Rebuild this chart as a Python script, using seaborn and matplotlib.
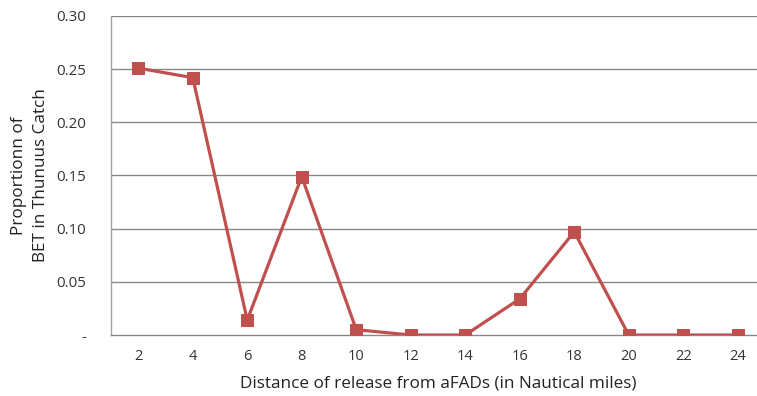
import matplotlib
matplotlib.use("Agg")
import matplotlib.pyplot as plt
import seaborn as sns
import pandas as pd
import numpy as np
from matplotlib.ticker import FixedLocator

distance = ["2", "4", "6", "8", "10", "12", "14", "16", "18", "20", "22", "24"]
proportion = [0.251, 0.242, 0.014, 0.149, 0.005, 0.0, 0.0, 0.034, 0.097, 0.0, 0.0, 0.0]
y_ticks = [0.0, 0.05, 0.10, 0.15, 0.20, 0.25, 0.30]
y_labels = ["-", "0.05", "0.10", "0.15", "0.20", "0.25", "0.30"]

sns.set_style("white")
plt.rcParams["font.family"] = ["Open Sans", "DejaVu Sans"]

df = pd.DataFrame({"pos": np.arange(len(distance)), "prop": proportion})

fig = plt.figure(figsize=(7.57, 3.96), dpi=100)
ax = fig.add_axes([111/757, 1-335/396, 654/757, 319/396])

grid_c = "#878787"
red = "#C0504D"

for y in y_ticks[1:]:
    ax.axhline(y, color=grid_c, lw=1.0, zorder=1)

sns.lineplot(data=df, x="pos", y="prop", ax=ax, color=red, lw=2.3,
             marker="s", markersize=9, markeredgecolor=red, markerfacecolor=red,
             zorder=3)

ax.set_xlim(-0.5, len(distance) - 0.5)
ax.set_ylim(0, 0.30)
ax.set_xticks(np.arange(len(distance)))
ax.set_xticklabels(distance)
ax.xaxis.set_minor_locator(FixedLocator(np.arange(len(distance) + 1) - 0.5))
ax.tick_params(axis="x", which="major", length=0, pad=10, labelsize=10.5, colors="#333333")
ax.tick_params(axis="x", which="minor", length=5, width=1, color=grid_c, direction="out")
ax.set_yticks(y_ticks)
ax.set_yticklabels(y_labels)
ax.tick_params(axis="y", which="major", length=4, width=1, color=grid_c, direction="out",
               pad=14, labelsize=10.8, labelcolor="#333333")

for s in ["top", "right"]:
    ax.spines[s].set_visible(False)
ax.spines["left"].set_color("#a0a0a0")
ax.spines["left"].set_linewidth(1.0)
ax.spines["bottom"].set_color(grid_c)
ax.spines["bottom"].set_linewidth(1.0)

ax.set_xlabel("Distance of release from aFADs (in Nautical miles)", fontsize=12.3,
              color="#222222", labelpad=8)
ax.set_ylabel("Proportionn of\nBET in Thunuus Catch", fontsize=12.3, color="#222222",
              labelpad=5, linespacing=1.55)

fig.savefig("out.png", dpi=100)
